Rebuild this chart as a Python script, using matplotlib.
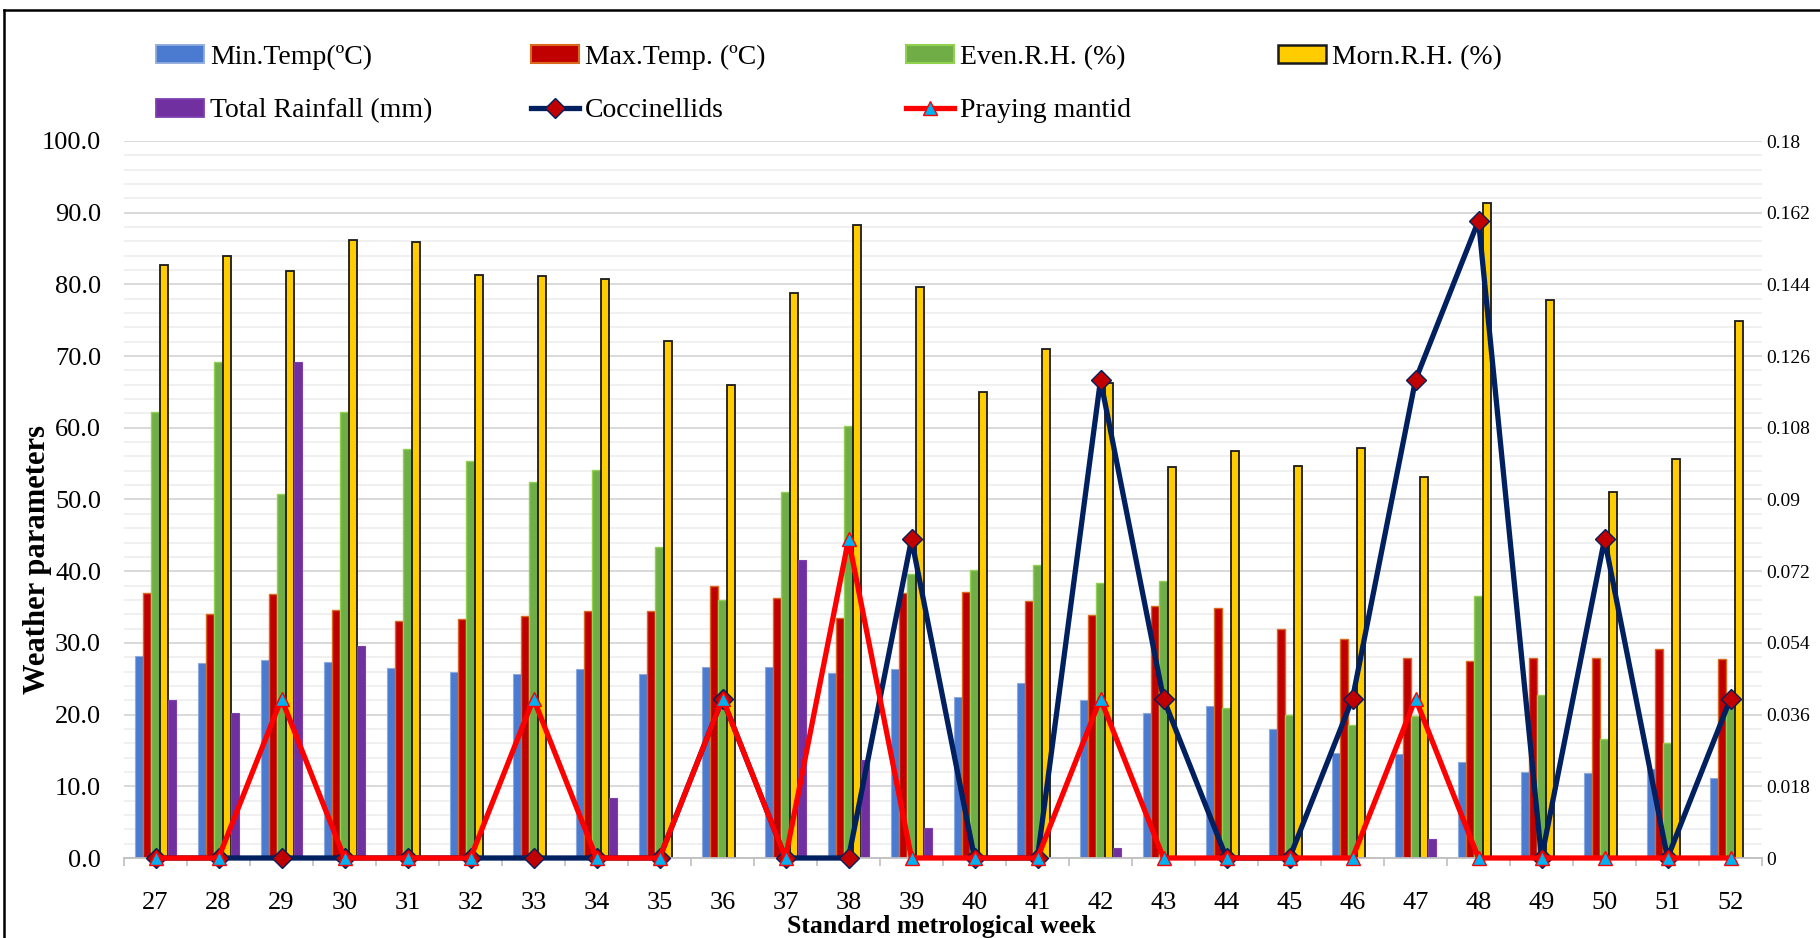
import numpy as np
import matplotlib.pyplot as plt
from matplotlib.patches import Patch
from matplotlib.lines import Line2D
from matplotlib.ticker import MultipleLocator, FixedLocator, FuncFormatter

plt.rcParams['font.family'] = ['Liberation Serif', 'DejaVu Sans']

# standard meteorological weeks
weeks = list(range(27, 53))

min_temp = [28.2, 27.2, 27.6, 27.4, 26.5, 26.0, 25.7, 26.3, 25.6, 26.6, 26.6, 25.8, 26.3,
            22.5, 24.4, 22.0, 20.2, 21.2, 18.0, 14.6, 14.5, 13.4, 12.0, 11.9, 12.4, 11.2]
max_temp = [37.0, 34.1, 36.8, 34.6, 33.0, 33.4, 33.7, 34.4, 34.5, 38.0, 36.3, 33.5, 37.0,
            37.1, 35.8, 33.9, 35.1, 34.8, 31.9, 30.6, 27.9, 27.5, 27.9, 27.9, 29.1, 27.7]
even_rh = [62.2, 69.2, 50.8, 62.2, 57.0, 55.4, 52.4, 54.1, 43.4, 36.0, 51.0, 60.3, 39.6,
           40.2, 40.9, 38.4, 38.6, 20.9, 20.0, 18.6, 19.8, 36.5, 22.8, 16.6, 16.0, 21.3]
morn_rh = [82.7, 84.0, 81.9, 86.2, 85.9, 81.3, 81.2, 80.7, 72.1, 65.9, 78.8, 88.3, 79.7,
           65.0, 71.0, 66.3, 54.5, 56.8, 54.7, 57.2, 53.1, 91.3, 77.8, 51.0, 55.7, 74.9]
rainfall = [22.1, 20.2, 69.2, 29.5, 0, 0, 0, 8.4, 0, 0, 41.6, 13.6, 4.2,
            0, 0, 1.4, 0, 0, 0, 0, 2.7, 0, 0, 0, 0, 0]
coccinellids = [0, 0, 0, 0, 0, 0, 0, 0, 0, 0.04, 0, 0, 0.08,
                0, 0, 0.12, 0.04, 0, 0, 0.04, 0.12, 0.16, 0, 0.08, 0, 0.04]
mantid = [0, 0, 0.04, 0, 0, 0, 0.04, 0, 0, 0.04, 0, 0.08, 0,
          0, 0, 0.04, 0, 0, 0, 0, 0.04, 0, 0, 0, 0, 0]

W, H = 1820, 938
fig = plt.figure(figsize=(W / 100, H / 100), dpi=100)
ax = fig.add_axes([124 / W, 80 / H, (1762 - 124) / W, 717 / H])

x = np.arange(len(weeks))
bw = 0.132
bars = [
    ('Min.Temp(ºC)', min_temp, '#4A7BD0', '#8EAADB', 0.8, -2),
    ('Max.Temp. (ºC)', max_temp, '#C00000', '#D9691C', 1.0, -1),
    ('Even.R.H. (%)', even_rh, '#70AD47', '#92D050', 1.0, 0),
    ('Morn.R.H. (%)', morn_rh, '#FFCC00', '#1A1A1A', 1.3, 1),
    ('Total Rainfall (mm)', rainfall, '#7030A0', '#7F3FB0', 0.8, 2),
]
handles = {}
for name, vals, fc, ec, lw, k in bars:
    ax.bar(x + k * bw, vals, width=bw, color=fc, edgecolor=ec, linewidth=lw, zorder=2)
    handles[name] = Patch(facecolor=fc, edgecolor=ec, linewidth=lw + 0.5)

ax.set_xlim(-0.5, len(weeks) - 0.5)
ax.set_ylim(0, 100)
ax.set_xticks(x)
ax.set_xticklabels([str(w) for w in weeks])
ax.xaxis.set_minor_locator(FixedLocator(np.arange(-0.5, len(weeks), 1)))
ax.set_yticks(np.arange(0, 101, 10))
ax.yaxis.set_major_formatter(FuncFormatter(lambda v, p: f'{v:.1f}'))
ax.yaxis.set_minor_locator(MultipleLocator(2))
ax.grid(which='major', axis='y', color='#D9D9D9', lw=1.4)
ax.grid(which='minor', axis='y', color='#EFEFEF', lw=1.3)
ax.set_axisbelow(True)

ax.tick_params(axis='x', which='major', length=0, pad=24.5, labelsize=19)
ax.tick_params(axis='x', which='minor', length=6, width=1.2, color='#BFBFBF')
ax.tick_params(axis='y', which='both', length=0, pad=16.5, labelsize=19)
for s in ['left', 'right', 'top']:
    ax.spines[s].set_visible(False)
ax.spines['bottom'].set_color('#BFBFBF')
ax.spines['bottom'].set_linewidth(1.3)

ax2 = ax.twinx()
ax2.set_ylim(0, 0.18)
ax2.set_yticks(np.linspace(0, 0.18, 11))
ax2.yaxis.set_major_formatter(
    FuncFormatter(lambda v, p: '0' if abs(v) < 1e-9 else f'{v:.3f}'.rstrip('0')))
ax2.tick_params(axis='y', length=0, pad=3, labelsize=14)
for s in ax2.spines.values():
    s.set_visible(False)

ax2.plot(x, coccinellids, color='#002060', lw=3.8, marker='D', ms=10,
         mfc='#C00000', mec='#002060', mew=1, zorder=3, clip_on=False)
ax2.plot(x, mantid, color='#FF0000', lw=3.8, marker='^', ms=10,
         mfc='#00B0F0', mec='#FF0000', mew=1, zorder=4, clip_on=False)

handles['Coccinellids'] = Line2D([], [], color='#002060', lw=3.8, marker='D', ms=10,
                                 mfc='#C00000', mec='#002060', mew=1)
handles['Praying mantid'] = Line2D([], [], color='#FF0000', lw=3.8, marker='^', ms=10,
                                   mfc='#00B0F0', mec='#FF0000', mew=1)

# legend laid out like Excel: 4 equal columns, 2 rows
columns = [
    (156, ['Min.Temp(ºC)', 'Total Rainfall (mm)']),
    (531, ['Max.Temp. (ºC)', 'Coccinellids']),
    (906, ['Even.R.H. (%)', 'Praying mantid']),
    (1278, ['Morn.R.H. (%)']),
]
for xpx, names in columns:
    fig.legend([handles[n] for n in names], names, loc='upper left',
               bbox_to_anchor=(xpx / W, 1 - 45 / H), frameon=False,
               borderpad=0, borderaxespad=0, fontsize=20, handlelength=1.73,
               handleheight=0.61, handletextpad=0.22, labelspacing=1.02)

fig.text(38 / W, 1 - 560 / H, 'Weather parameters', rotation=90, ha='center',
         va='center', fontsize=22, fontweight='bold')
fig.text(941 / W, 5.5 / H, 'Standard metrological week', ha='center',
         va='baseline', fontsize=18.5, fontweight='bold')

# outer chart border (cropped at right/bottom)
fig.add_artist(Line2D([4 / W, 4 / W], [0, 1 - 10 / H], color='black', lw=1.8,
                      transform=fig.transFigure))
fig.add_artist(Line2D([4 / W, 1], [1 - 10 / H, 1 - 10 / H], color='black', lw=1.8,
                      transform=fig.transFigure))

fig.savefig('out.png', dpi=100)
